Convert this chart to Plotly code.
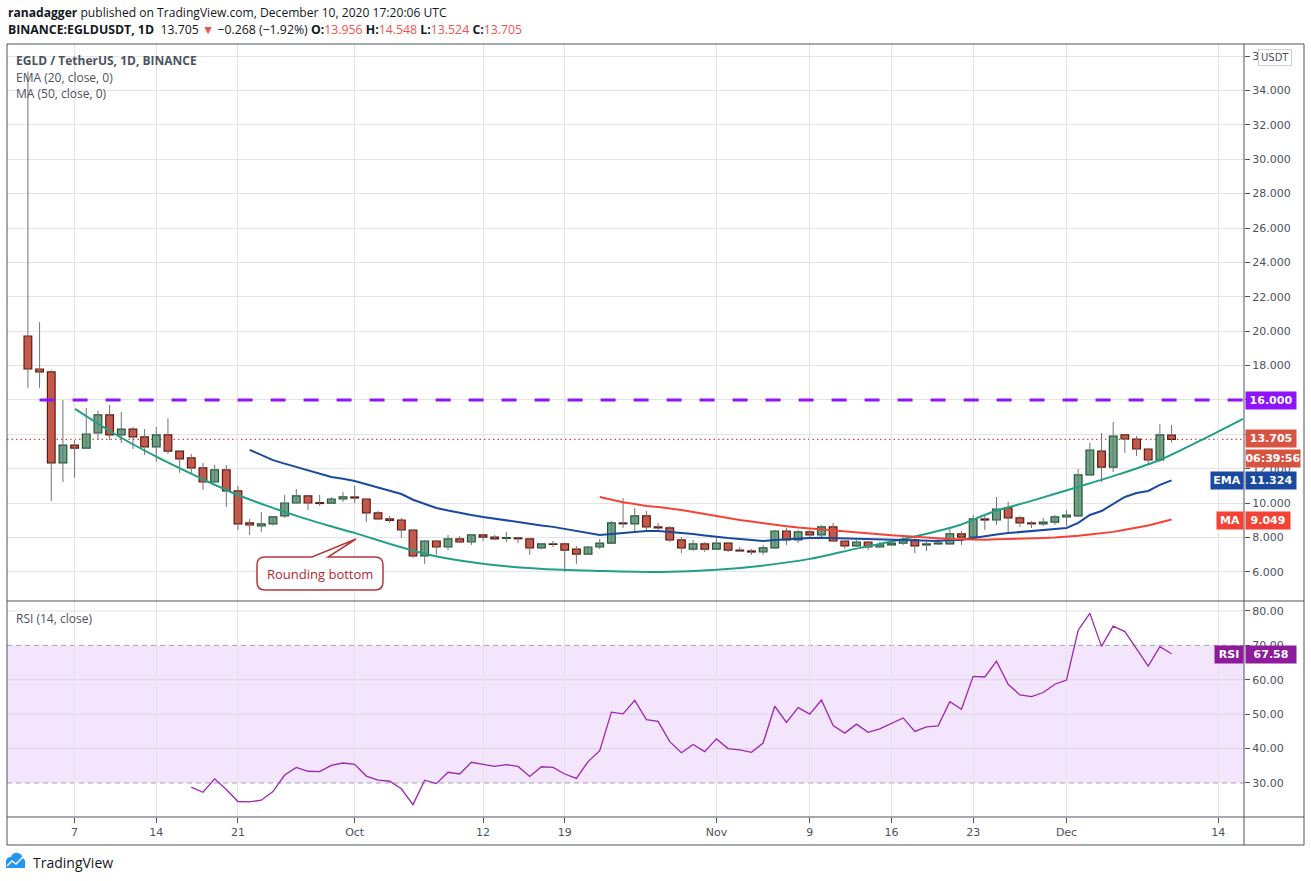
import pandas as pd
import plotly.graph_objects as go

W, H = 1311, 881

# daily candles, EGLD/USDT on Binance
dates = pd.date_range("2020-09-03", "2020-12-10", freq="D")

opens = [19.72, 17.80, 17.63, 12.34, 13.38, 13.20, 14.08, 15.13, 13.97, 14.31,
         13.85, 13.27, 13.97, 13.03, 12.63, 12.05, 11.23, 11.93, 10.71, 8.85,
         8.67, 8.79, 9.26, 10.01, 10.42, 10.03, 10.00, 10.24, 10.36, 10.24,
         9.43, 9.08, 9.02, 8.44, 6.93, 7.80, 7.45, 7.92, 7.74, 8.15,
         8.03, 7.95, 7.98, 7.92, 7.40, 7.63, 7.63, 7.33, 7.04, 7.45,
         7.68, 8.85, 8.79, 9.26, 8.62, 8.56, 7.86, 7.33, 7.63, 7.33,
         7.68, 7.27, 7.22, 7.16, 7.40, 8.38, 7.86, 8.33, 8.15, 8.62,
         7.80, 7.51, 7.74, 7.45, 7.57, 7.68, 7.86, 7.57, 7.63, 7.63,
         8.21, 8.03, 9.08, 9.02, 9.72, 9.14, 8.85, 8.79, 8.90, 9.20,
         9.26, 11.64, 13.03, 12.10, 13.97, 13.73, 13.15, 12.51, 13.956]
highs = [35.10, 20.53, 17.74, 16.00, 13.67, 15.53, 15.36, 15.71, 15.30, 14.43,
         14.31, 14.43, 14.95, 13.05, 12.86, 12.34, 12.22, 12.22, 11.00, 9.08,
         9.49, 9.25, 10.48, 10.83, 10.48, 10.48, 10.36, 10.65, 11.00, 10.30,
         9.54, 9.26, 9.14, 8.50, 7.85, 7.85, 8.15, 8.09, 8.21, 8.21,
         8.15, 8.33, 7.99, 7.99, 7.68, 7.80, 7.65, 7.51, 7.51, 7.92,
         8.97, 10.30, 9.72, 9.54, 8.85, 8.67, 8.03, 7.86, 7.74, 7.97,
         7.74, 7.45, 7.33, 7.57, 8.45, 8.56, 8.45, 8.45, 8.72, 8.85,
         7.83, 7.86, 7.80, 7.74, 7.92, 8.03, 7.97, 7.74, 7.97, 8.50,
         8.38, 9.31, 9.37, 10.36, 10.07, 9.25, 8.97, 9.14, 9.31, 9.60,
         11.99, 13.50, 14.08, 14.72, 13.99, 13.90, 13.18, 14.60, 14.548]
lows = [16.70, 16.70, 10.13, 11.23, 11.47, 13.15, 13.67, 13.67, 13.50, 13.15,
        12.80, 12.40, 12.86, 11.76, 11.76, 10.77, 11.20, 9.78, 8.44, 8.15,
        8.33, 8.70, 9.14, 9.95, 9.60, 9.84, 9.95, 10.07, 10.00, 8.90,
        9.02, 8.85, 7.98, 6.81, 6.47, 6.99, 7.27, 7.68, 7.57, 7.80,
        7.86, 7.74, 7.68, 6.99, 7.33, 7.45, 6.00, 6.47, 6.99, 7.33,
        7.65, 8.56, 8.27, 8.44, 8.40, 7.74, 7.10, 7.22, 7.16, 7.27,
        7.16, 7.16, 6.99, 6.99, 7.33, 7.57, 7.68, 8.03, 8.03, 7.74,
        7.33, 7.45, 7.27, 7.40, 7.51, 7.57, 7.10, 7.22, 7.57, 7.57,
        7.57, 7.92, 8.44, 8.73, 8.33, 8.62, 8.56, 8.67, 8.73, 8.67,
        9.20, 11.60, 11.23, 11.81, 12.92, 12.74, 12.22, 12.40, 13.524]
closes = [17.80, 17.63, 12.34, 13.38, 13.20, 14.02, 15.13, 13.97, 14.31, 13.85,
          13.27, 13.97, 13.03, 12.57, 12.05, 11.23, 11.93, 10.71, 8.79, 8.73,
          8.79, 9.20, 10.01, 10.42, 10.01, 9.98, 10.24, 10.36, 10.30, 9.43,
          9.08, 9.00, 8.44, 6.93, 7.80, 7.45, 7.92, 7.74, 8.15, 8.03,
          7.92, 8.00, 7.93, 7.40, 7.63, 7.60, 7.27, 7.04, 7.45, 7.68,
          8.85, 8.80, 9.26, 8.62, 8.56, 7.86, 7.40, 7.63, 7.33, 7.68,
          7.27, 7.22, 7.16, 7.40, 8.38, 7.86, 8.33, 8.15, 8.62, 7.80,
          7.51, 7.74, 7.45, 7.57, 7.68, 7.86, 7.51, 7.63, 7.68, 8.21,
          8.03, 9.08, 9.02, 9.66, 9.14, 8.85, 8.80, 8.90, 9.20, 9.31,
          11.64, 13.09, 12.10, 13.90, 13.73, 13.15, 12.51, 13.97, 13.705]

# EMA(20) from Sep 22, MA(50) from Oct 22, RSI(14) from Sep 17
ema20 = [13.10, 12.80, 12.50, 12.30, 12.10, 11.90, 11.70, 11.52, 11.42, 11.29,
         11.10, 10.90, 10.70, 10.53, 10.20, 9.95, 9.72, 9.57, 9.43, 9.31,
         9.20, 9.10, 9.00, 8.87, 8.79, 8.70, 8.62, 8.50, 8.35, 8.25,
         8.15, 8.21, 8.27, 8.32, 8.38, 8.38, 8.33, 8.27, 8.21, 8.12,
         8.03, 7.97, 7.92, 7.86, 7.80, 7.86, 7.91, 7.97, 7.98, 7.99,
         7.97, 7.95, 7.93, 7.92, 7.90, 7.88, 7.86, 7.84, 7.82, 7.80,
         7.85, 7.86, 7.98, 8.09, 8.18, 8.26, 8.32, 8.37, 8.43, 8.50,
         8.56, 8.85, 9.31, 9.54, 9.95, 10.36, 10.59, 10.71, 11.06, 11.324]
ma50 = [10.36, 10.20, 10.05, 9.95, 9.84, 9.78, 9.70, 9.60, 9.48, 9.36,
        9.22, 9.12, 9.02, 8.93, 8.83, 8.74, 8.66, 8.58, 8.52, 8.47,
        8.43, 8.37, 8.30, 8.24, 8.18, 8.13, 8.09, 8.04, 8.00, 7.95,
        7.92, 7.90, 7.88, 7.87, 7.90, 7.93, 7.95, 7.97, 7.98, 8.00,
        8.03, 8.10, 8.18, 8.25, 8.33, 8.45, 8.58, 8.70, 8.88, 9.049]
rsi14 = [28.8, 27.3, 31.2, 28.1, 24.6, 24.5, 25.0, 27.5, 32.3, 34.5,
         33.4, 33.3, 35.1, 35.8, 35.4, 32.0, 30.8, 30.5, 28.3, 23.7,
         30.8, 29.8, 33.1, 32.6, 36.0, 35.3, 34.8, 35.3, 34.8, 31.9,
         34.7, 34.5, 32.6, 31.3, 36.2, 39.4, 50.6, 50.1, 54.0, 48.4,
         47.9, 42.0, 38.8, 41.2, 39.1, 42.8, 40.0, 39.6, 38.9, 41.6,
         52.3, 47.6, 51.9, 50.0, 54.1, 46.7, 44.5, 47.1, 44.7, 45.7,
         47.3, 48.9, 45.0, 46.3, 46.6, 53.6, 51.4, 61.0, 60.8, 65.4,
         58.7, 55.6, 55.1, 56.3, 58.7, 59.9, 74.4, 79.3, 69.7, 75.6,
         74.0, 69.1, 64.0, 69.6, 67.58]

# hand drawn "rounding bottom" arc
arc_dates = ["2020-09-07 01:00", "2020-09-10 07:00", "2020-09-14 01:00", "2020-09-17 18:00",
             "2020-09-20 14:00", "2020-09-23 12:00", "2020-09-26 07:00", "2020-09-28 21:00",
             "2020-10-01 00:00", "2020-10-04 15:00", "2020-10-07 11:00", "2020-10-10 07:00",
             "2020-10-13 17:00", "2020-10-18 20:00", "2020-10-21 18:00", "2020-10-27 04:00",
             "2020-11-01 01:00", "2020-11-04 17:00", "2020-11-09 00:00", "2020-11-13 07:00",
             "2020-11-17 20:00", "2020-11-21 21:00", "2020-11-24 10:00", "2020-11-28 07:00",
             "2020-12-01 23:00", "2020-12-05 14:00", "2020-12-09 00:00", "2020-12-12 10:00",
             "2020-12-16 03:00"]
arc_prices = [15.48, 14.08, 12.69, 11.47, 10.59, 9.84, 9.20, 8.67, 8.27, 7.51,
              6.99, 6.64, 6.35, 6.12, 6.06, 6.00, 6.12, 6.35, 6.76, 7.40,
              8.03, 8.73, 9.43, 10.19, 10.94, 11.70, 12.51, 13.62, 14.90]

resistance = 16.0
last_price = 13.705
price_ticks = list(range(6, 38, 2))
rsi_ticks = [30, 40, 50, 60, 70, 80]
tick_dates = ["2020-09-07", "2020-09-14", "2020-09-21", "2020-10-01", "2020-10-12", "2020-10-19",
              "2020-11-01", "2020-11-09", "2020-11-16", "2020-11-23", "2020-12-01", "2020-12-14"]
tick_text = ["7", "14", "21", "Oct", "12", "19", "Nov", "9", "16", "23", "Dec", "14"]
x_start, x_end = "2020-09-01 05:00", "2020-12-16 05:00"


def px(x):
    return x / W


def py(y):
    return 1 - y / H


def pt(x, y):
    return f"{px(x):.5f},{py(y):.5f}"


UP, DOWN = "#6ba583", "#d75442"
UP_LINE, DOWN_LINE = "#225437", "#5b1a13"
GRID = "#e4e4e4"
FRAME = "#50535e"
TXT = "#4c525e"

fig = go.Figure()

# wicks
wx, wy = [], []
for d, h, l in zip(dates, highs, lows):
    wx += [d, d, None]
    wy += [l, h, None]
fig.add_trace(go.Scatter(x=wx, y=wy, mode="lines", line=dict(color="#737375", width=1),
                         hoverinfo="skip", xaxis="x", yaxis="y"))

# bodies
up = [c >= o for o, c in zip(opens, closes)]
fig.add_trace(go.Bar(
    x=dates, y=[abs(c - o) for o, c in zip(opens, closes)],
    base=[min(o, c) for o, c in zip(opens, closes)],
    width=0.66 * 86400000,
    marker=dict(color=[UP if u else DOWN for u in up],
                line=dict(color=[UP_LINE if u else DOWN_LINE for u in up], width=1.2)),
    xaxis="x", yaxis="y"))

fig.add_trace(go.Scatter(x=arc_dates, y=arc_prices, mode="lines",
                         line=dict(color="#22a086", width=2, shape="spline", smoothing=0.8),
                         xaxis="x", yaxis="y"))
fig.add_trace(go.Scatter(x=dates[-len(ema20):], y=ema20, mode="lines",
                         line=dict(color="#1a49a0", width=2), xaxis="x", yaxis="y"))
fig.add_trace(go.Scatter(x=dates[-len(ma50):], y=ma50, mode="lines",
                         line=dict(color="#f44336", width=2), xaxis="x", yaxis="y"))
fig.add_trace(go.Scatter(x=dates[-len(rsi14):], y=rsi14, mode="lines",
                         line=dict(color="#9c27b0", width=1.3), xaxis="x2", yaxis="y2"))

tickfont = dict(family="DejaVu Sans", size=11, color=TXT)
fig.update_layout(
    width=W, height=H, margin=dict(l=0, r=0, t=0, b=0),
    paper_bgcolor="white", plot_bgcolor="white", showlegend=False,
    xaxis=dict(domain=[px(7), px(1244)], range=[x_start, x_end], type="date",
               tickvals=tick_dates, showticklabels=False, ticks="", gridcolor=GRID,
               zeroline=False, showline=False, anchor="y", automargin=False),
    yaxis=dict(domain=[py(601), py(44)], range=[4.31, 36.70], side="right",
               tickvals=price_ticks, tickformat=".3f", ticks="outside", ticklen=5,
               tickcolor=FRAME, tickfont=tickfont, gridcolor=GRID, zeroline=False,
               anchor="x", automargin=False),
    xaxis2=dict(domain=[px(7), px(1244)], matches="x", type="date", tickvals=tick_dates,
                ticktext=tick_text, ticks="outside", ticklen=5, tickcolor=FRAME,
                tickfont=tickfont, gridcolor=GRID, zeroline=False, anchor="y2",
                automargin=False),
    yaxis2=dict(domain=[py(817), py(601)], range=[20.1, 82.9], side="right",
                tickvals=rsi_ticks, tickformat=".2f", ticks="outside", ticklen=5,
                tickcolor=FRAME, tickfont=tickfont, showgrid=False, zeroline=False,
                anchor="x2", automargin=False),
)

shapes = [
    # RSI band and guides
    dict(type="rect", xref="paper", yref="y2", x0=px(7), x1=px(1244), y0=30, y1=70,
         fillcolor="#f3e5fc", line=dict(width=0), layer="below"),
]
for v in [40, 50, 60]:
    shapes.append(dict(type="line", xref="paper", yref="y2", x0=px(7), x1=px(1244), y0=v, y1=v,
                       line=dict(color="#dfd2ea", width=1), layer="below"))
shapes.append(dict(type="line", xref="paper", yref="y2", x0=px(7), x1=px(1244), y0=80, y1=80,
                   line=dict(color=GRID, width=1), layer="below"))
for v in [30, 70]:
    shapes.append(dict(type="line", xref="paper", yref="y2", x0=px(7), x1=px(1244), y0=v, y1=v,
                       line=dict(color="#a3a3a8", width=1, dash="5px,4px"), layer="between"))
# resistance and last price
shapes.append(dict(type="line", xref="x", yref="y", x0=dates[1], x1=x_end,
                   y0=resistance, y1=resistance,
                   line=dict(color="#9013fe", width=3, dash="15px,18px"), layer="above"))
shapes.append(dict(type="line", xref="paper", yref="y", x0=px(7), x1=px(1244),
                   y0=last_price, y1=last_price,
                   line=dict(color="#e0483a", width=1.3, dash="1.5px,3px"), layer="between"))
# frame
shapes += [
    dict(type="rect", xref="paper", yref="paper", x0=px(7), x1=px(1304), y0=py(845), y1=py(44),
         line=dict(color=FRAME, width=1)),
    dict(type="line", xref="paper", yref="paper", x0=px(1244), x1=px(1244), y0=py(845), y1=py(44),
         line=dict(color=FRAME, width=1)),
    dict(type="line", xref="paper", yref="paper", x0=px(7), x1=px(1304), y0=py(601), y1=py(601),
         line=dict(color=FRAME, width=1)),
    dict(type="line", xref="paper", yref="paper", x0=px(7), x1=px(1304), y0=py(817), y1=py(817),
         line=dict(color=FRAME, width=1)),
]
# callout box
callout = (f"M{pt(265,557)} L{pt(312,557)} L{pt(356,539)} L{pt(328,557)} L{pt(375,557)} "
           f"Q{pt(383,557)} {pt(383,565)} L{pt(383,582)} Q{pt(383,590)} {pt(375,590)} "
           f"L{pt(265,590)} Q{pt(257,590)} {pt(257,582)} L{pt(257,565)} Q{pt(257,557)} {pt(265,557)} Z")
shapes.append(dict(type="path", xref="paper", yref="paper", path=callout,
                   fillcolor="rgba(255,255,255,0.9)", line=dict(color="#b4393d", width=1.5),
                   layer="above"))
# TradingView logo
logo = (f"M{pt(6,868)} L{pt(6,862)} Q{pt(6,857)} {pt(11,857)} Q{pt(13,852)} {pt(18,853)} "
        f"Q{pt(22,854)} {pt(23,858)} Q{pt(26,860)} {pt(25,864)} L{pt(25,868)} Z")
shapes.append(dict(type="path", xref="paper", yref="paper", path=logo,
                   fillcolor="#2196f3", line=dict(width=0)))
shapes.append(dict(type="path", xref="paper", yref="paper",
                   path=f"M{pt(7,866)} L{pt(12,861)} L{pt(16,864)} L{pt(23,857)}",
                   line=dict(color="white", width=1.5)))
fig.update_layout(shapes=shapes)

ann = []


def text(x, y, s, size=12.5, color=TXT, family="Open Sans", anchor="left"):
    ann.append(dict(xref="paper", yref="paper", x=px(x), y=py(y), text=s, showarrow=False,
                    xanchor=anchor, yanchor="middle",
                    font=dict(family=family, size=size, color=color)))


def tag(x, y, s, bg, w, h=17):
    ann.append(dict(xref="paper", yref="paper", x=px(x), y=py(y), text=f"<b>{s}</b>",
                    showarrow=False, xanchor="left", yanchor="middle", width=w, height=h,
                    align="center", bgcolor=bg, borderpad=0,
                    font=dict(family="DejaVu Sans", size=11, color="white")))


red = "#ef5350"
text(6, 12, "<b>ranadagger</b> published on TradingView.com, December 10, 2020 17:20:06 UTC",
     size=12.1, color="#131722")
text(6, 29, f"<b>BINANCE:EGLDUSDT, 1D</b>  13.705 <span style='color:{red}'>▼</span> "
     f"−0.268 (−1.92%) <b>O:</b><span style='color:{red}'>13.956</span> "
     f"<b>H:</b><span style='color:{red}'>14.548</span> "
     f"<b>L:</b><span style='color:{red}'>13.524</span> "
     f"<b>C:</b><span style='color:{red}'>13.705</span>", size=12.3, color="#131722")
text(14, 60, "<b>EGLD / TetherUS, 1D, BINANCE</b>", size=12)
text(14, 77, "EMA (20, close, 0)", size=12)
text(14, 94, "MA (50, close, 0)", size=12)
text(14, 618, "RSI (14, close)", size=12)
text(320, 574, "Rounding bottom", size=13, color="#b22833", anchor="center")
text(31, 862, "TradingView", size=14, color="#131722")

ann.append(dict(xref="paper", yref="paper", x=px(1258), y=py(57), text="USDT", showarrow=False,
                xanchor="left", yanchor="middle", bgcolor="white", bordercolor="#cfcfd4",
                borderwidth=1, borderpad=2, font=dict(family="DejaVu Sans", size=10, color=TXT)))

tag(1245, 400, f"{resistance:.3f}", "#9013fe", 50)
tag(1245, 438.5, f"{last_price:.3f}", DOWN, 50)
tag(1245, 458, "06:39:56", DOWN, 54)
tag(1210, 480, "EMA", "#1a49a0", 32)
tag(1245, 480, f"{ema20[-1]:.3f}", "#1a49a0", 50)
tag(1216, 520, "MA", "#f44336", 26)
tag(1245, 520, f"{ma50[-1]:.3f}", "#f44336", 44)
tag(1214, 654, "RSI", "#8e1a9c", 28)
tag(1245, 654, f"{rsi14[-1]:.2f}", "#8e1a9c", 50)

fig.update_layout(annotations=ann)

fig.write_html("out.html", config={"displayModeBar": False},
               post_script="document.body.style.margin='0';")
